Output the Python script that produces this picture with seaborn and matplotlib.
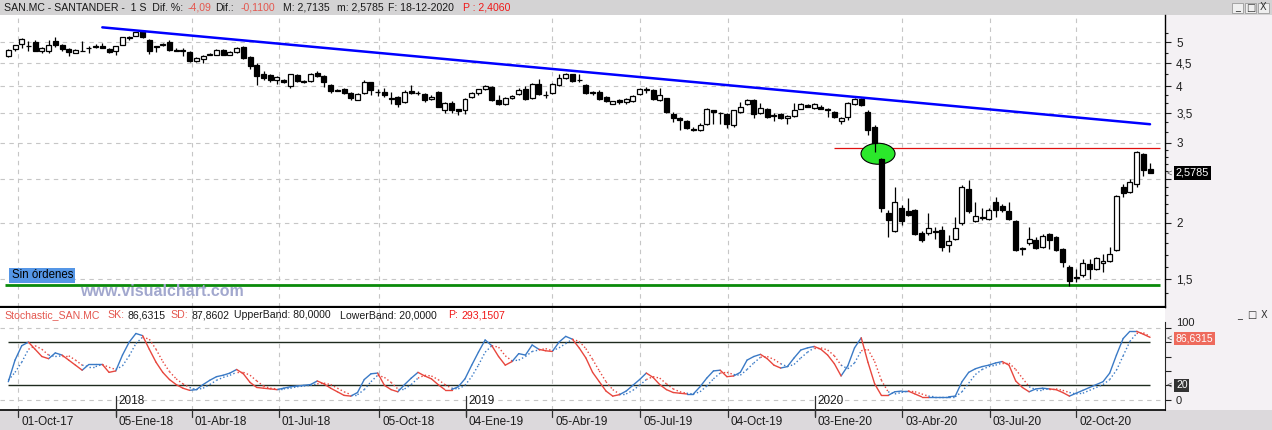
import numpy as np
import pandas as pd
import matplotlib
matplotlib.use("Agg")
import matplotlib.pyplot as plt
import seaborn as sns
from matplotlib.patches import Rectangle, Ellipse
from matplotlib.lines import Line2D
from matplotlib.transforms import ScaledTranslation, blended_transform_factory, offset_copy
from matplotlib.ticker import FixedLocator, FixedFormatter, NullFormatter

# ---------------- data (weekly candles SAN.MC, Sep-2017 .. Dec-2020) ----------------
opens = [4.66,4.83,4.95,4.92,5.02,4.80,4.80,5.04,4.94,4.84,
         4.75,4.80,4.85,4.89,4.92,4.84,4.80,4.94,5.15,5.17,
         5.31,5.07,4.90,4.93,5.02,4.82,4.80,4.76,4.55,4.60,
         4.69,4.70,4.81,4.70,4.76,4.89,4.64,4.47,4.27,4.23,
         4.14,4.14,4.00,4.23,4.12,4.12,4.28,4.22,4.03,3.92,
         3.94,3.87,3.74,3.86,4.08,3.89,3.89,3.77,3.79,3.70,
         3.91,3.86,3.84,3.75,3.89,3.55,3.68,3.56,3.55,3.79,
         3.86,3.95,3.99,3.74,3.66,3.78,3.84,3.94,3.77,4.05,
         3.83,3.86,4.03,4.18,4.25,4.14,4.02,3.88,3.89,3.79,
         3.66,3.74,3.69,3.71,3.84,3.93,3.92,3.74,3.77,3.48,
         3.41,3.36,3.22,3.21,3.30,3.54,3.50,3.48,3.28,3.51,
         3.65,3.74,3.49,3.56,3.46,3.48,3.40,3.44,3.57,3.63,
         3.59,3.61,3.57,3.51,3.36,3.42,3.66,3.75,3.51,3.26,
         2.77,2.10,1.92,2.15,2.12,2.13,1.90,1.90,1.91,1.93,
         1.79,1.84,2.00,2.38,2.02,2.05,2.04,2.22,2.18,2.12,
         2.02,1.76,1.80,1.83,1.77,1.89,1.86,1.75,1.60,1.51,
         1.53,1.62,1.58,1.63,1.65,1.74,2.40,2.34,2.43,2.83,
         2.63]
highs = [4.84,4.94,5.11,5.05,5.06,4.88,5.06,5.13,4.95,4.86,
         4.83,5.04,4.92,4.97,4.99,4.86,4.92,5.15,5.17,5.28,
         5.33,5.10,4.92,4.98,5.06,4.85,4.87,4.78,4.64,4.70,
         4.74,4.84,4.83,4.78,4.89,4.90,4.66,4.50,4.33,4.25,
         4.22,4.15,4.26,4.26,4.14,4.28,4.33,4.24,4.05,3.95,
         3.97,3.88,3.86,4.14,4.10,3.94,3.97,3.89,3.80,3.92,
         4.03,3.90,3.87,3.82,3.90,3.70,3.72,3.57,3.77,3.89,
         3.95,4.02,4.01,3.82,3.79,3.83,3.97,4.00,4.06,4.16,
         3.91,4.06,4.27,4.29,4.27,4.25,4.04,3.90,3.92,3.80,
         3.72,3.76,3.78,3.82,3.96,3.99,3.94,3.96,3.78,3.51,
         3.42,3.38,3.25,3.32,3.58,3.55,3.51,3.50,3.55,3.69,
         3.76,3.76,3.67,3.58,3.50,3.50,3.46,3.67,3.68,3.65,
         3.67,3.63,3.58,3.53,3.42,3.70,3.77,3.78,3.54,3.28,
         2.78,2.13,2.40,2.19,2.27,2.14,1.92,2.10,1.96,1.97,
         1.88,2.06,2.42,2.49,2.22,2.16,2.16,2.28,2.20,2.22,
         2.03,1.77,1.96,1.86,1.89,1.90,1.87,1.76,1.61,1.58,
         1.66,1.66,1.68,1.71,1.77,2.30,2.43,2.50,2.88,2.85,
         2.7135]
lows = [4.64,4.80,4.86,4.80,4.78,4.75,4.73,4.88,4.78,4.66,
        4.74,4.78,4.75,4.86,4.85,4.75,4.70,4.93,5.06,5.16,
        5.12,4.72,4.77,4.90,4.78,4.80,4.66,4.53,4.52,4.50,
        4.68,4.68,4.68,4.69,4.75,4.60,4.36,4.03,4.13,4.10,
        4.04,4.06,3.97,4.10,4.07,4.10,4.20,3.98,3.86,3.91,
        3.84,3.74,3.73,3.84,3.82,3.80,3.79,3.66,3.61,3.68,
        3.85,3.82,3.70,3.74,3.60,3.49,3.49,3.46,3.47,3.77,
        3.83,3.93,3.71,3.63,3.64,3.75,3.82,3.73,3.76,3.82,
        3.78,3.85,4.01,4.16,4.10,4.10,3.85,3.83,3.73,3.70,
        3.65,3.66,3.66,3.70,3.83,3.86,3.73,3.72,3.50,3.33,
        3.21,3.22,3.19,3.19,3.29,3.30,3.30,3.24,3.26,3.49,
        3.63,3.41,3.47,3.40,3.36,3.39,3.30,3.43,3.56,3.60,
        3.56,3.56,3.43,3.40,3.30,3.38,3.64,3.62,3.12,2.87,
        2.11,1.86,1.91,1.98,2.07,1.88,1.81,1.88,1.84,1.73,
        1.72,1.83,1.98,2.10,2.01,2.03,2.03,2.06,2.11,2.03,
        1.73,1.70,1.79,1.75,1.76,1.75,1.73,1.60,1.45,1.48,
        1.52,1.50,1.57,1.56,1.64,1.73,2.28,2.33,2.40,2.53,
        2.5785]
closes = [4.82,4.93,5.10,4.90,4.80,4.86,4.94,4.94,4.84,4.76,
          4.82,4.79,4.87,4.91,4.86,4.76,4.90,5.13,5.11,5.27,
          5.15,4.80,4.88,4.95,4.82,4.80,4.81,4.56,4.62,4.66,
          4.71,4.82,4.70,4.76,4.87,4.62,4.43,4.21,4.18,4.14,
          4.20,4.08,4.25,4.12,4.09,4.27,4.22,4.09,3.90,3.91,
          3.87,3.77,3.85,4.10,3.92,3.88,3.82,3.76,3.66,3.89,
          3.86,3.86,3.73,3.79,3.61,3.67,3.55,3.53,3.75,3.87,
          3.94,4.00,3.74,3.65,3.77,3.80,3.92,3.75,4.04,3.84,
          3.82,4.04,4.18,4.25,4.12,4.13,3.86,3.86,3.75,3.71,
          3.71,3.69,3.75,3.80,3.94,3.95,3.75,3.82,3.52,3.40,
          3.37,3.24,3.21,3.29,3.57,3.51,3.49,3.30,3.54,3.61,
          3.74,3.47,3.58,3.42,3.44,3.40,3.44,3.55,3.66,3.61,
          3.65,3.57,3.55,3.42,3.40,3.67,3.75,3.63,3.20,3.00,
          2.16,2.03,2.22,2.02,2.08,1.89,1.83,1.95,1.92,1.77,
          1.82,1.95,2.40,2.12,2.07,2.06,2.13,2.13,2.13,2.04,
          1.74,1.75,1.84,1.76,1.87,1.83,1.74,1.64,1.49,1.52,
          1.63,1.58,1.67,1.65,1.71,2.29,2.33,2.46,2.86,2.62,
          2.5785]

# Stochastic oscillator (SK solid, SD dotted)
sk = [25,55,75,80,70,60,57,65,62,55,
      48,41,49,49,49,38,40,62,80,92,
      89,70,52,38,28,21,16,13,14,21,
      27,32,34,37,42,36,24,17,16,15,
      14,16,18,19,20,21,26,22,16,11,
      6,5,10,28,36,37,20,14,11,21,
      30,38,33,29,21,14,14,18,29,48,
      66,83,75,60,48,53,64,62,76,70,
      68,67,80,88,84,72,58,38,25,12,
      5,7,12,20,28,37,31,21,14,10,
      9,8,8,18,30,40,41,32,33,38,
      55,60,63,57,48,44,46,58,69,72,
      74,70,62,50,33,47,72,86,52,22,
      6,6,11,12,12,8,4,4,4,4,
      4,5,25,38,43,46,48,51,53,48,
      26,17,11,15,16,15,14,10,5,9,
      13,17,21,25,37,62,85,95,95,91,
      86.6315]
sd = [27,38,52,70,75,70,62,60,61,61,
      55,48,46,46,49,45,42,47,61,78,
      87,84,70,53,39,29,22,17,14,16,
      21,27,31,34,38,38,34,26,19,16,
      15,15,16,18,19,20,22,23,21,16,
      11,7,7,14,25,34,31,24,15,15,
      21,30,34,33,28,21,16,15,20,32,
      48,66,75,73,61,54,55,60,67,69,
      71,68,72,78,84,81,71,56,40,25,
      14,8,8,13,20,28,32,30,22,15,
      11,9,8,11,19,29,37,38,35,34,
      42,51,59,60,56,50,46,49,58,66,
      72,72,69,61,48,43,51,68,70,53,
      27,11,8,10,12,11,8,5,4,4,
      4,4,11,23,35,42,46,48,51,51,
      42,30,18,14,14,15,15,13,10,8,
      9,13,17,21,28,41,61,81,92,93,
      87.8602]
upper_band = 80
lower_band = 20

# x axis labels (positions in candle index units)
date_tick_pos = [1.5, 16.0, 27.35, 40.3, 55.2, 68.1, 80.96, 94.06, 107.1, 120.1, 133.1, 146.1, 159.0]
date_tick_labels = ["01-Oct-17", "05-Ene-18", "01-Abr-18", "01-Jul-18", "05-Oct-18", "04-Ene-19",
                    "05-Abr-19", "05-Jul-19", "04-Oct-19", "03-Ene-20", "03-Abr-20", "03-Jul-20", "02-Oct-20"]
year_pos = [16.0, 68.1, 120.1]
year_labels = ["2018", "2019", "2020"]

price_ticks = [1.5, 2, 2.5, 3, 3.5, 4, 4.5, 5]
price_tick_labels = ["1,5", "2", "", "3", "3,5", "4", "4,5", "5"]   # 2,5 hidden behind price flag
price_minor = [1.4, 1.6, 1.7, 1.8, 1.9, 2.1, 2.2, 2.3, 2.4, 2.6, 2.7, 2.8, 2.9,
               3.17, 3.33, 3.67, 3.83, 4.25, 4.75, 5.25]

# drawn studies
trend_x = [14, 170]
trend_y = [5.40, 3.30]
resist_x = [122.9, 171.5]
resist_y = 2.93
support_x = [-0.5, 171.5]
support_y = 1.455
signal_x = 129.5
signal_y = 2.84
last_price = 2.5785

# header texts: (start pixel, text, colour key)
title_parts = [(3, 'SAN.MC - SANTANDER -  1 S  Dif. %:', 'k'), (187, '-4,09', 's'), (215, 'Dif.:', 'k'),
               (241, '-0,1100', 's'), (283, 'M: 2,7135', 'k'), (337, 'm: 2,5785', 'k'),
               (384, 'F: 18-12-2020', 'k'), (463, 'P : 2,4060', 'r')]
stoch_parts = [(3, 'Stochastic_SAN.MC', 's'), (107, 'SK:', 's'), (122, '86,6315', 'k'), (166, 'SD:', 's'),
               (184, '87,8602', 'k'), (228, 'UpperBand: 80,0000', 'k'), (340, 'LowerBand: 20,0000', 'k'),
               (448, 'P:', 'r'), (461, '293,1507', 'r')]

# ---------------- style / layout ----------------
sns.set_style("white")
plt.rcParams['font.family'] = ['Liberation Sans', 'DejaVu Sans']

W, H, DPI = 1272, 430, 100
fig = plt.figure(figsize=(W / DPI, H / DPI), dpi=DPI)
fig.patch.set_facecolor('#F4F1F4')
renderer = fig.canvas.get_renderer()

def fx(x):
    return x / W

def fy(y):
    return 1 - y / H

def px_axes(x0, y0, x1, y1):
    return fig.add_axes([x0 / W, 1 - y1 / H, (x1 - x0) / W, (y1 - y0) / H])

FIRST_PX, STEP_PX, AX_RIGHT = 8.3, 6.716, 1165
XL = (-FIRST_PX / STEP_PX, (AX_RIGHT - FIRST_PX) / STEP_PX)

# title bar and bottom strip
fig.add_artist(Rectangle((0, fy(15)), 1, 15 / H, transform=fig.transFigure, fc='#D4D3D4', ec='none', zorder=0))
fig.add_artist(Rectangle((0, 0), 1, 20 / H, transform=fig.transFigure, fc='#DCD9DC', ec='none', zorder=0))

GRID_C = '#C6C6C6'
DASH = (0, (4, 4))

# ---------------- main price panel ----------------
ax = px_axes(0, 15, AX_RIGHT, 307)
ax.set_facecolor('white')
ax.set_yscale('log')

idx = np.arange(len(opens))
o = np.array(opens); h = np.array(highs); l = np.array(lows); c = np.array(closes)
up = c >= o
body_lo = np.minimum(o, c)
body_h = np.maximum(np.abs(c - o), 0.004)

for p in price_ticks:
    ax.axhline(p, color=GRID_C, lw=0.8, ls=DASH, zorder=0)
for p in date_tick_pos:
    if p not in year_pos:
        ax.axvline(p, color=GRID_C, lw=0.8, ls=DASH, zorder=0)

ax.hlines(support_y, support_x[0], support_x[1], color='#0A8A0A', lw=2.0, zorder=2)
ax.hlines(resist_y, resist_x[0], resist_x[1], color='#E01010', lw=0.9, zorder=2)

ell = Ellipse((0, 0), 34 / DPI, 21 / DPI, fc='#2BE82B', ec='black', lw=0.8,
              transform=fig.dpi_scale_trans + ScaledTranslation(signal_x, signal_y, ax.transData), zorder=2.5)
ax.add_patch(ell)

ax.vlines(idx, l, h, color='black', lw=0.9, zorder=3)
ax.bar(idx, body_h, bottom=body_lo, width=0.74, color=np.where(up, 'white', 'black'),
       edgecolor='black', linewidth=0.9, zorder=4)

sns.lineplot(x=trend_x, y=trend_y, ax=ax, color='#0000FF', lw=1.8, zorder=5)

ax.set_xlim(*XL)
ax.set_ylim(1.303, 5.75)
ax.set_xticks([])
ax.set_xlabel('')
ax.set_ylabel('')
ax.yaxis.tick_right()
ax.yaxis.set_major_locator(FixedLocator(price_ticks))
ax.yaxis.set_major_formatter(FixedFormatter(price_tick_labels))
ax.yaxis.set_minor_locator(FixedLocator(price_minor))
ax.yaxis.set_minor_formatter(NullFormatter())
ax.tick_params(axis='y', which='major', length=4, width=0.8, pad=4, labelsize=8.5, colors='#202020')
ax.tick_params(axis='y', which='minor', length=2.4, width=0.8, colors='#202020')
for s in ['left', 'top']:
    ax.spines[s].set_visible(False)
ax.spines['right'].set_color('black'); ax.spines['right'].set_linewidth(1.0)
ax.spines['bottom'].set_color('black'); ax.spines['bottom'].set_linewidth(1.6)

tr_main = blended_transform_factory(ax.transAxes, ax.transData)
ax.text(1 + 11 / AX_RIGHT, last_price, '2,5785', transform=tr_main, color='white', fontsize=7.8,
        va='center', ha='left', clip_on=False,
        bbox=dict(boxstyle='square,pad=0.18', fc='black', ec='none'))
ax.text(1 + 2 / AX_RIGHT, last_price, '<', transform=tr_main, color='#444444', fontsize=6.5,
        va='center', ha='left', clip_on=False)

# ---------------- stochastic panel ----------------
ax2 = px_axes(0, 308, AX_RIGHT, 410)
ax2.set_facecolor('white')
for v in (0, 100):
    ax2.axhline(v, color=GRID_C, lw=0.8, ls=DASH, zorder=0)
for p in date_tick_pos:
    if p not in year_pos:
        ax2.axvline(p, color=GRID_C, lw=0.8, ls=DASH, zorder=0)
ax2.hlines([upper_band, lower_band], 0, len(sk) - 1, color='#1E2A1E', lw=1.0, zorder=2)

rows = []
for i in range(len(sk) - 1):
    d = 'up' if sk[i + 1] >= sd[i + 1] else 'down'
    for j in (i, i + 1):
        rows.append((j, sk[j], sd[j], i, d))
df = pd.DataFrame(rows, columns=['x', 'sk', 'sd', 'seg', 'dir'])
pal = {'up': '#3A7AC6', 'down': '#E8473E'}
sns.lineplot(data=df, x='x', y='sd', hue='dir', units='seg', estimator=None, palette=pal,
             legend=False, ax=ax2, lw=1.0, linestyle=':', sort=False, zorder=3)
sns.lineplot(data=df, x='x', y='sk', hue='dir', units='seg', estimator=None, palette=pal,
             legend=False, ax=ax2, lw=1.0, sort=False, zorder=4)

ax2.set_xlim(*XL)
ax2.set_ylim(-14.3, 127.4)
ax2.set_xticks([])
ax2.set_xlabel('')
ax2.set_ylabel('')
ax2.yaxis.tick_right()
ax2.yaxis.set_major_locator(FixedLocator([0, 20, 40, 60, 80, 100]))
ax2.yaxis.set_major_formatter(FixedFormatter(['0', '', '', '', '', '100']))
ax2.tick_params(axis='y', which='major', length=4, width=0.8, pad=4, labelsize=8, colors='#202020')
for lab in ax2.get_yticklabels():
    if lab.get_text() == '100':
        lab.set_va('bottom')
for s in ['left', 'top']:
    ax2.spines[s].set_visible(False)
ax2.spines['right'].set_bounds(-14.3, 108)
ax2.spines['bottom'].set_color('black'); ax2.spines['bottom'].set_linewidth(1.2)

tr_st = blended_transform_factory(ax2.transAxes, ax2.transData)
ax2.text(1 + 11 / AX_RIGHT, sk[-1] - 1.5, '86,6315', transform=tr_st, color='white', fontsize=7.5,
         va='center', ha='left', clip_on=False,
         bbox=dict(boxstyle='square,pad=0.15', fc='#EE6A5C', ec='none'))
ax2.text(1 + 11 / AX_RIGHT, lower_band, '20', transform=tr_st, color='white', fontsize=7.5,
         va='center', ha='left', clip_on=False,
         bbox=dict(boxstyle='square,pad=0.15', fc='#333333', ec='none'))
for v in (sk[-1] - 1.5, lower_band):
    ax2.text(1 + 2 / AX_RIGHT, v, '<', transform=tr_st, color='#444444', fontsize=6.5,
             va='center', ha='left', clip_on=False)

# ---------------- x axis labels ----------------
tr_x = blended_transform_factory(ax2.transData, fig.transFigure)
tr_lab = offset_copy(tr_x, fig=fig, x=3, y=0, units='dots')
for p, lab in zip(date_tick_pos, date_tick_labels):
    fig.add_artist(Line2D([p, p], [fy(410), fy(417)], transform=tr_x, color='#303030', lw=0.9))
    fig.text(p, fy(422), lab, transform=tr_lab, fontsize=8.5, color='#1A1A1A', va='center', ha='left')
for p, lab in zip(year_pos, year_labels):
    fig.add_artist(Line2D([p, p], [fy(396), fy(416)], transform=tr_x, color='#303030', lw=0.9))
    fig.text(p, fy(401), lab, transform=tr_lab, fontsize=8.5, color='#1A1A1A', va='center', ha='left')

# ---------------- header texts ----------------
COLS = {'k': '#1A1A1A', 's': '#E4574F', 'r': '#F01818'}

def put_parts(parts, y, size):
    prev_end = 0
    for x0, s, ck in parts:
        x = max(x0, prev_end + 4)
        t = fig.text(fx(x), fy(y), s, color=COLS[ck], fontsize=size, va='center', ha='left')
        bb = t.get_window_extent(renderer=renderer)
        prev_end = bb.x1

put_parts(title_parts, 8, 7.6)
put_parts(stoch_parts, 315, 7.6)

# window buttons
for bx, g in zip([1232, 1245, 1258], ['_', '\u25a1', 'X']):
    fig.add_artist(Rectangle((fx(bx), fy(13)), 11 / W, 10 / H, transform=fig.transFigure,
                             fc='#EFEFEF', ec='#9A9A9A', lw=0.6, zorder=1))
    fig.text(fx(bx + 5.5), fy(7.5), g, fontsize=7, color='#333333', ha='center', va='center',
             family=['DejaVu Sans'])
for bx, g in zip([1236, 1248, 1260], ['_', '\u25a1', 'X']):
    fig.text(fx(bx + 4), fy(315), g, fontsize=7, color='#333333', ha='center', va='center',
             family=['DejaVu Sans'])

# "Sin órdenes" tag and watermark
fig.add_artist(Rectangle((fx(9), fy(283)), 66 / W, 15 / H, transform=fig.transFigure,
                         fc='#5596E6', ec='none', zorder=2))
fig.text(fx(12), fy(275.5), 'Sin órdenes', color='black', fontsize=8.3, va='center', ha='left', zorder=3)
fig.text(fx(80), fy(291.5), 'www.visualchart.com', color='#A2A8CE', fontsize=11.5,
         fontweight='bold', va='center', ha='left', zorder=3)

fig.savefig('out.png', dpi=DPI, facecolor=fig.get_facecolor())
